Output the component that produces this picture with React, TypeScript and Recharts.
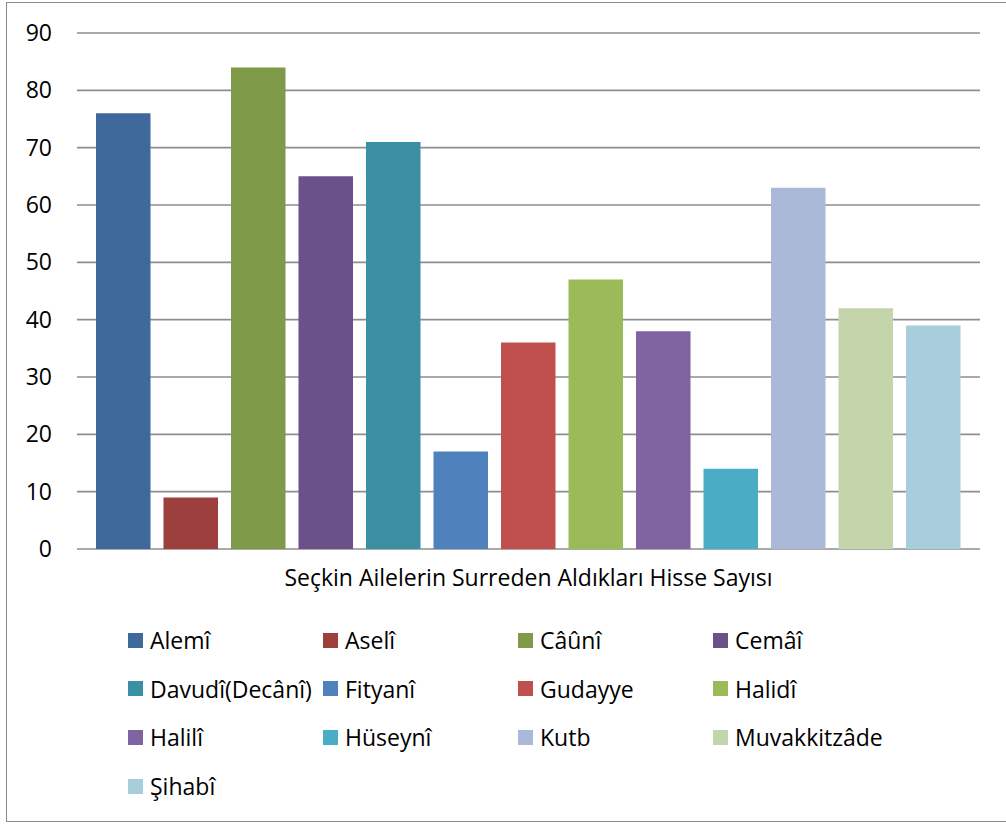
import React from "react";
import { BarChart, Bar, XAxis, YAxis, CartesianGrid } from "recharts";

const families = [
  "Alemî",
  "Aselî",
  "Câûnî",
  "Cemâî",
  "Davudî(Decânî)",
  "Fityanî",
  "Gudayye",
  "Halidî",
  "Halilî",
  "Hüseynî",
  "Kutb",
  "Muvakkitzâde",
  "Şihabî",
];

const shares = [76, 9, 84, 65, 71, 17, 36, 47, 38, 14, 63, 42, 39];

const colors = [
  "#3F689B",
  "#9C3F3D",
  "#7F9A48",
  "#6A518A",
  "#3A8FA3",
  "#4F81BD",
  "#C0504D",
  "#9BBB59",
  "#8064A2",
  "#4BACC6",
  "#A9B9D7",
  "#C5D5AB",
  "#A8CDDD",
];

const categoryLabel = "Seçkin Ailelerin Surreden Aldıkları Hisse Sayısı";
const yTicks = [0, 10, 20, 30, 40, 50, 60, 70, 80, 90];

const row: Record<string, string | number> = { name: categoryLabel };
families.forEach((f, i) => {
  row[f] = shares[i];
});
const data = [row];

const font = "'Open Sans', Lato, sans-serif";
const gridColor = "#8e8e8e";

function Legend() {
  return (
    <div style={{ position: "absolute", left: 128, top: 616, width: 800 }}>
      {families.map((f, i) => (
        <div
          key={f}
          style={{
            position: "absolute",
            left: (i % 4) * 195,
            top: Math.floor(i / 4) * 48.7,
            height: 48,
            display: "flex",
            alignItems: "center",
            fontFamily: font,
            fontSize: 23,
            color: "#000",
            whiteSpace: "nowrap",
          }}
        >
          <span
            style={{
              display: "inline-block",
              width: 15,
              height: 15,
              background: colors[i],
              marginRight: 7,
            }}
          />
          {f}
        </div>
      ))}
    </div>
  );
}

export default function App() {
  return (
    <div
      style={{
        position: "absolute",
        left: 0,
        top: 0,
        width: 1006,
        height: 824,
        overflow: "hidden",
        background: "#fff",
      }}
    >
      <div
        style={{
          position: "absolute",
          left: 6,
          top: 2,
          width: 1010,
          height: 820,
          border: "1.5px solid #8a8a8a",
          boxSizing: "border-box",
        }}
      />
      <div style={{ position: "absolute", left: 0, top: 0 }}>
        <BarChart
          width={1006}
          height={600}
          data={data}
          margin={{ top: 33, right: 26, bottom: 0, left: 0 }}
          barSize={54.5}
          barGap={13}
        >
          <CartesianGrid
            vertical={false}
            stroke={gridColor}
            strokeWidth={1.6}
          />
          <XAxis
            dataKey="name"
            height={51}
            axisLine={false}
            tickLine={false}
            tickSize={0}
            tickMargin={21}
            tick={{ fontFamily: font, fontSize: 23, fill: "#000" }}
          />
          <YAxis
            width={77}
            domain={[0, 90]}
            ticks={yTicks}
            axisLine={false}
            tickLine={false}
            tickSize={0}
            tickMargin={25}
            tick={{ fontFamily: font, fontSize: 23, fill: "#000" }}
          />
          {families.map((f, i) => (
            <Bar
              key={f}
              dataKey={f}
              fill={colors[i]}
              isAnimationActive={false}
            />
          ))}
        </BarChart>
      </div>
      <Legend />
    </div>
  );
}
